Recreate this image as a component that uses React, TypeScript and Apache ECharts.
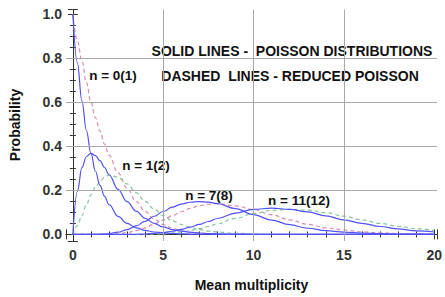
import React, { useEffect, useRef } from 'react';
import * as echarts from 'echarts';

// mean multiplicity sample points
const lambdas = [0, 0.25, 0.5, 0.75, 1, 1.25, 1.5, 1.75, 2, 2.5, 3, 3.5, 4, 4.5, 5, 5.5, 6, 6.5, 7, 7.5, 8, 9, 10, 11, 12, 13, 14, 15, 16, 17, 18, 19, 20];

// solid lines - Poisson distributions
const solidN0 = [1.0, 0.779, 0.607, 0.472, 0.368, 0.287, 0.223, 0.174, 0.135, 0.082, 0.05, 0.03, 0.018, 0.011, 0.0067, 0.0041, 0.0025, 0.0015, 0.0009, 0.0006, 0.0003, 0.0001, 0, 0, 0, 0, 0, 0, 0, 0, 0, 0, 0];
const solidN1 = [0, 0.195, 0.303, 0.354, 0.368, 0.358, 0.335, 0.304, 0.271, 0.205, 0.149, 0.106, 0.073, 0.05, 0.034, 0.022, 0.015, 0.0098, 0.0064, 0.0041, 0.0027, 0.0011, 0.0005, 0.0002, 0, 0, 0, 0, 0, 0, 0, 0, 0];
const solidN7 = [0, 0, 0, 0, 0.0001, 0.0003, 0.0008, 0.0017, 0.0034, 0.0099, 0.0216, 0.0385, 0.0595, 0.0824, 0.104, 0.1235, 0.138, 0.1462, 0.149, 0.1465, 0.14, 0.117, 0.09, 0.065, 0.044, 0.028, 0.017, 0.01, 0.006, 0.0034, 0.0019, 0.001, 0.0005];
const solidN11 = [0, 0, 0, 0, 0, 0, 0, 0, 0, 0.0001, 0.0002, 0.0006, 0.0019, 0.0043, 0.0082, 0.0143, 0.0225, 0.033, 0.0452, 0.0585, 0.0722, 0.097, 0.114, 0.119, 0.114, 0.102, 0.084, 0.066, 0.05, 0.036, 0.025, 0.016, 0.011];

// dashed lines - reduced Poisson
const dashedN0 = [1.0, 0.88, 0.79, 0.69, 0.6, 0.53, 0.47, 0.41, 0.36, 0.28, 0.21, 0.15, 0.105, 0.07, 0.045, 0.028, 0.016, 0.01, 0.006, 0.004, 0.002, 0.001, 0, 0, 0, 0, 0, 0, 0, 0, 0, 0, 0];
const dashedN1 = [0, 0.04, 0.085, 0.135, 0.18, 0.215, 0.24, 0.26, 0.27, 0.26, 0.23, 0.19, 0.15, 0.115, 0.085, 0.062, 0.045, 0.032, 0.022, 0.015, 0.011, 0.005, 0.002, 0, 0, 0, 0, 0, 0, 0, 0, 0, 0];
const dashedN7 = [0, 0, 0, 0, 0, 0, 0.0001, 0.0002, 0.0009, 0.003, 0.008, 0.017, 0.03, 0.047, 0.065, 0.085, 0.103, 0.118, 0.13, 0.137, 0.14, 0.13, 0.113, 0.089, 0.066, 0.046, 0.03, 0.02, 0.012, 0.007, 0.004, 0.002, 0.001];
const dashedN11 = [0, 0, 0, 0, 0, 0, 0, 0, 0, 0, 0, 0.0002, 0.0006, 0.0016, 0.0034, 0.0065, 0.011, 0.018, 0.026, 0.036, 0.048, 0.073, 0.095, 0.109, 0.114, 0.11, 0.099, 0.083, 0.066, 0.05, 0.037, 0.026, 0.018];

const curveLabels = ['n = 0(1)', 'n = 1(2)', 'n = 7(8)', 'n = 11(12)'];
const gridY = [0.2, 0.4, 0.6, 0.8];
const gridX = [5, 10, 15];

const FONT = '"Liberation Sans", Arial, sans-serif';
const BLUE = '#5252f7';
const PINK = '#d98bb5';
const GREEN = '#86c79b';

export default function App() {
  const ref = useRef<HTMLDivElement>(null);
  useEffect(() => {
    const chart = echarts.init(ref.current!, null, { renderer: 'svg' });
    const zip = (ys: number[]) => lambdas.map((x, i) => [x, ys[i]]);
    const tickStyle = { inside: true, length: 5, lineStyle: { color: '#333', width: 1 } };
    const minorX = { show: true, splitNumber: 5, length: 3, lineStyle: { color: '#333', width: 1 } };
    const minorY = { show: true, splitNumber: 4, length: 3, lineStyle: { color: '#333', width: 1 } };
    const axisLine = { show: true, lineStyle: { color: '#333', width: 1 } };
    const xBase = { type: 'value', min: -0.38, max: 20.15, splitNumber: 4, splitLine: { show: false } };
    const yBase = { type: 'value', min: -0.03, max: 1.022, splitNumber: 5, splitLine: { show: false } };
    const solid = (d: number[]) => ({
      type: 'line', data: zip(d), smooth: 0.4, smoothMonotone: 'x', showSymbol: false, symbol: 'none', z: 3,
      lineStyle: { color: BLUE, width: 1.2, type: 'solid' },
    });
    const dashed = (d: number[], c: string) => ({
      type: 'line', data: zip(d), smooth: 0.4, smoothMonotone: 'x', showSymbol: false, symbol: 'none', z: 2,
      lineStyle: { color: c, width: 1.2, type: [4, 3] },
    });
    const annot = (text: string, x: number, y: number, size: number) => ({
      type: 'text', x, y,
      style: { text, fill: '#111', font: `bold ${size}px ${FONT}`, textAlign: 'center', textVerticalAlign: 'middle' },
    });
    chart.setOption({
      animation: false,
      backgroundColor: '#fff',
      grid: { left: 66, right: 4, top: 9.5, bottom: 54 },
      xAxis: [
        {
          ...xBase, position: 'bottom',
          axisLine, axisTick: tickStyle, minorTick: minorX,
          axisLabel: {
            margin: 7, color: '#333', fontSize: 14, fontWeight: 'bold', fontFamily: FONT,
            formatter: (v: number) => (Math.abs(v - Math.round(v / 5) * 5) < 1e-6 ? String(Math.round(v)) : ''),
          },
          name: 'Mean multiplicity', nameLocation: 'middle', nameGap: 37,
          nameTextStyle: { color: '#111', fontSize: 14, fontWeight: 'bold', fontFamily: FONT },
        },
        {
          ...xBase, position: 'top',
          axisLine, axisTick: tickStyle, minorTick: minorX, axisLabel: { show: false },
        },
      ],
      yAxis: [
        {
          ...yBase, position: 'left',
          axisLine, axisTick: tickStyle, minorTick: minorY,
          axisLabel: {
            margin: 4, color: '#333', fontSize: 14, fontWeight: 'bold', fontFamily: FONT,
            formatter: (v: number) => (Math.abs(v * 5 - Math.round(v * 5)) < 1e-6 ? v.toFixed(1) : ''),
          },
        },
        {
          ...yBase, position: 'right',
          axisLine, axisTick: tickStyle, minorTick: minorY, axisLabel: { show: false },
        },
      ],
      series: [
        {
          type: 'line', data: [], z: 1, silent: true,
          markLine: {
            silent: true, symbol: 'none', label: { show: false },
            lineStyle: { color: '#a8a8a8', width: 1, type: 'solid' },
            data: [...gridY.map((v) => ({ yAxis: v })), ...gridX.map((v) => ({ xAxis: v }))],
          },
        },
        dashed(dashedN0, PINK),
        dashed(dashedN1, GREEN),
        dashed(dashedN7, PINK),
        dashed(dashedN11, GREEN),
        solid(solidN0),
        solid(solidN1),
        solid(solidN7),
        solid(solidN11),
      ],
      graphic: [
        {
          type: 'text', x: 15, y: 125, rotation: Math.PI / 2,
          style: { text: 'Probability', fill: '#111', font: `bold 14px ${FONT}`, textAlign: 'center', textVerticalAlign: 'middle' },
        },
        annot('SOLID LINES -  POISSON DISTRIBUTIONS', 292, 51, 14),
        annot('DASHED  LINES - REDUCED POISSON', 290, 76, 14),
        annot(curveLabels[0], 113, 75, 13.5),
        annot(curveLabels[1], 146, 165, 13.5),
        annot(curveLabels[2], 209, 195, 13.5),
        annot(curveLabels[3], 299, 200, 13.5),
      ],
    });
    return () => chart.dispose();
  }, []);
  return <div ref={ref} style={{ position: 'absolute', left: 0, top: 0, width: 445, height: 297 }} />;
}
